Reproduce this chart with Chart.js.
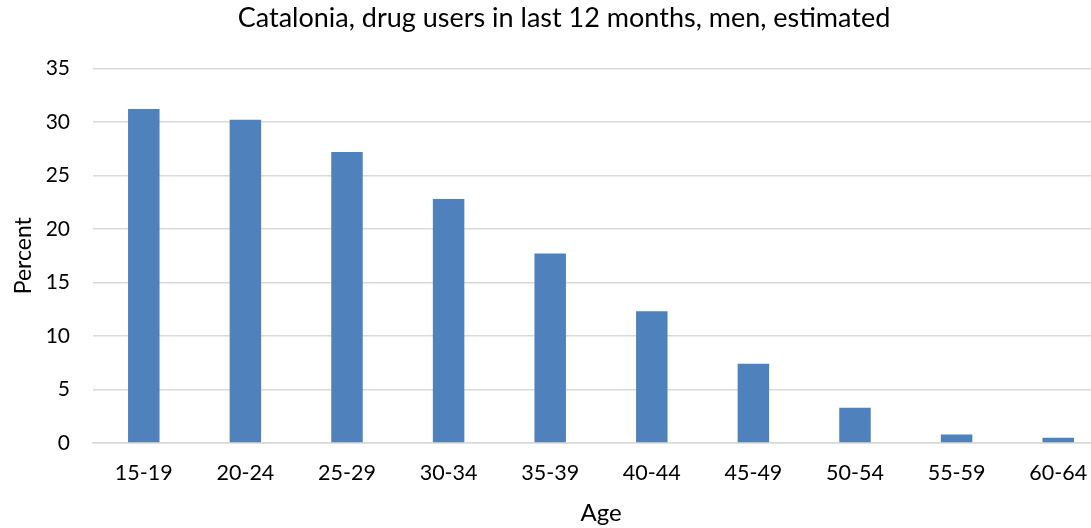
<!DOCTYPE html>
<html>
<head>
<meta charset="utf-8">
<title>Catalonia, drug users in last 12 months, men, estimated</title>
<script src="https://cdn.jsdelivr.net/npm/chart.js@4.4.1/dist/chart.umd.min.js"></script>
<style>
  html, body { margin: 0; padding: 0; background: #fff; overflow: hidden; }
  #wrap { position: relative; width: 1128px; height: 528px; }
</style>
</head>
<body>
<div id="wrap"><canvas id="chart"></canvas></div>
<script>
// Age groups on the x axis
const ageGroups = ['15-19', '20-24', '25-29', '30-34', '35-39', '40-44', '45-49', '50-54', '55-59', '60-64'];
// Estimated share of men who used drugs in the last 12 months (%)
const percentUsers = [31.2, 30.2, 27.2, 22.8, 17.7, 12.3, 7.4, 3.3, 0.8, 0.5];
// Value axis settings
const yMin = 0;
const yMax = 35;
const yStep = 5;

const FONT = "Lato, 'Open Sans', 'DejaVu Sans', sans-serif";
const GRID = '#d9d9d9';

new Chart(document.getElementById('chart'), {
  type: 'bar',
  data: {
    labels: ageGroups,
    datasets: [{
      label: 'Percent',
      data: percentUsers,
      backgroundColor: '#4f81bd',
      borderWidth: 0,
      categoryPercentage: 1.0,
      barPercentage: 0.31
    }]
  },
  options: {
    responsive: true,
    maintainAspectRatio: false,
    animation: false,
    layout: { padding: { left: 19, right: 19, top: 0, bottom: 0 } },
    plugins: {
      legend: { display: false },
      tooltip: { enabled: false },
      title: {
        display: true,
        text: 'Catalonia, drug users in last 12 months, men, estimated',
        color: '#000',
        font: { family: FONT, size: 27, weight: 'normal' },
        padding: { top: 2, bottom: 34 }
      }
    },
    scales: {
      x: {
        grid: { display: false, drawTicks: false },
        border: { display: true, color: GRID, width: 1.5 },
        ticks: { color: '#000', font: { family: FONT, size: 21.5 }, padding: 17, maxRotation: 0 },
        title: {
          display: true, text: 'Age', color: '#000',
          font: { family: FONT, size: 24 }, padding: { top: 0, bottom: 0 }
        },
        afterFit: (scale) => { scale.height = 85; }
      },
      y: {
        min: yMin, max: yMax,
        grid: { color: GRID, lineWidth: 1.5, drawTicks: false },
        border: { display: false },
        ticks: { stepSize: yStep, color: '#000', font: { family: FONT, size: 21 }, padding: 23 },
        title: {
          display: true, text: 'Percent', color: '#000',
          font: { family: FONT, size: 23 }, padding: { top: -9, bottom: 0 }
        },
        afterFit: (scale) => { scale.width = 74; }
      }
    }
  }
});
</script>
</body>
</html>
